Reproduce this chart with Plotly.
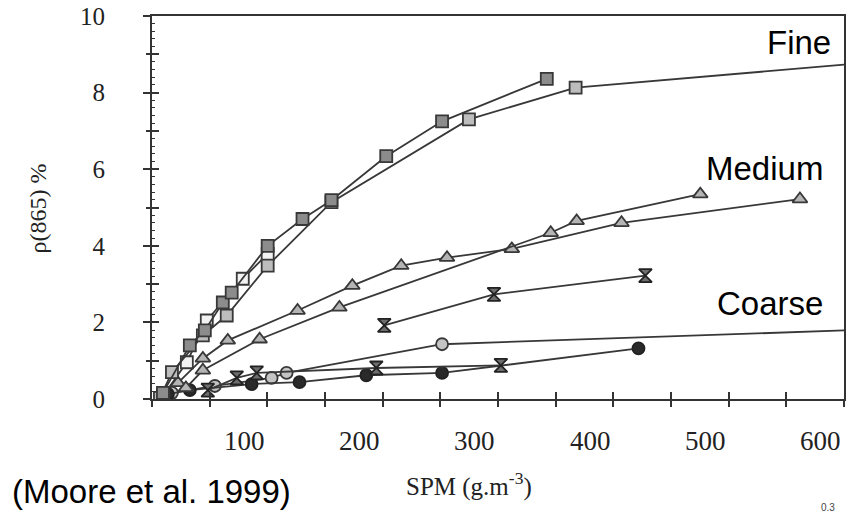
import plotly.graph_objects as go

# ---------------- data (SPM g/m3, rho(865) %) ----------------
fine_dark_x = [9.5, 32.8, 45.8, 61.4, 69.1, 100.3, 130.5, 155.6, 203.1, 251.5, 342.3]
fine_dark_y = [0.16, 1.40, 1.79, 2.52, 2.78, 4.00, 4.70, 5.19, 6.34, 7.25, 8.36]

fine_light_x = [6.9, 17.3, 44.1, 64.8, 100.3, 155.6, 274.8, 367.3]
fine_light_y = [0.03, 0.70, 1.66, 2.18, 3.48, 5.14, 7.30, 8.13]

fine_open_x = [9.5, 30.2, 47.5, 78.7, 100.3]
fine_open_y = [0.08, 0.96, 2.05, 3.14, 3.79]

fine_curve_x = [367.3, 600]
fine_curve_y = [8.13, 8.73]

med_a_x = [22.5, 44.1, 65.7, 126.2, 173.7, 216.1, 255.8, 312.0, 407.1, 561.8]
med_a_y = [0.42, 1.06, 1.53, 2.31, 2.96, 3.48, 3.69, 3.92, 4.60, 5.22]

med_b_x = [29.4, 44.1, 93.3, 162.5, 345.7, 368.2, 475.4]
med_b_y = [0.29, 0.75, 1.56, 2.39, 4.34, 4.65, 5.35]

med_hg_x = [201.4, 296.5, 427.8]
med_hg_y = [1.92, 2.73, 3.22]

coarse_light_x = [17.3, 54.5, 103.7, 116.7, 251.5]
coarse_light_y = [0.16, 0.34, 0.55, 0.68, 1.43]

coarse_curve_x = [251.5, 600]
coarse_curve_y = [1.43, 1.79]

coarse_dark_x = [13.8, 32.8, 86.4, 127.9, 185.8, 251.5, 421.8]
coarse_dark_y = [0.13, 0.23, 0.39, 0.44, 0.62, 0.68, 1.32]

coarse_hg_x = [48.4, 73.5, 90.8, 194.5, 302.5]
coarse_hg_y = [0.23, 0.55, 0.68, 0.81, 0.88]

x_tick_values = [0, 100, 200, 300, 400, 500, 600]
x_tick_labels = ["0", "100", "200", "300", "400", "500", "600"]
y_tick_values = [0, 2, 4, 6, 8, 10]
y_tick_labels = ["0", "2", "4", "6", "8", "10"]

# ---------------- styling ----------------
LINE = "#383838"
AX = "#333333"
SERIF = "Liberation Serif, Times New Roman, serif"
SANS = "Liberation Sans, Arial, sans-serif"
LABEL_SHIFT = -20  # printed tick labels sit left of their ticks in the scan

fig = go.Figure()


def series(x, y, symbol, fill, size, mline=LINE):
    fig.add_trace(go.Scatter(
        x=x, y=y, mode="lines+markers",
        line=dict(color=LINE, width=1.8),
        marker=dict(symbol=symbol, size=size, color=fill,
                    line=dict(color=mline, width=1.8)),
        showlegend=False, hoverinfo="skip"))


def curve(x, y):
    fig.add_trace(go.Scatter(x=x, y=y, mode="lines",
                             line=dict(color=LINE, width=1.8),
                             showlegend=False, hoverinfo="skip"))


curve(fine_curve_x, fine_curve_y)
curve(coarse_curve_x, coarse_curve_y)
series(coarse_light_x, coarse_light_y, "circle", "#c4c4c4", 12)
series(coarse_dark_x, coarse_dark_y, "circle", "#2a2a2a", 12, mline="#222")
series(coarse_hg_x, coarse_hg_y, "hourglass", "#6e6e6e", 13, mline="#222")
series(med_hg_x, med_hg_y, "hourglass", "#6e6e6e", 13, mline="#222")
series(med_a_x, med_a_y, "triangle-up", "#b4b4b4", 13)
series(med_b_x, med_b_y, "triangle-up", "#b4b4b4", 13)
series(fine_open_x, fine_open_y, "square", "#f2f2f2", 12)
series(fine_light_x, fine_light_y, "square", "#bdbdbd", 12)
series(fine_dark_x, fine_dark_y, "square", "#8c8c8c", 12)

# trace that activates the overlay axes (inside tick marks)
fig.add_trace(go.Scatter(x=[None], y=[None], xaxis="x2", yaxis="y2",
                         showlegend=False, hoverinfo="skip"))

axis_common = dict(showgrid=False, zeroline=False, showline=True,
                   linecolor=AX, linewidth=2, tickcolor=AX, tickwidth=2)

fig.update_layout(
    width=849, height=515,
    margin=dict(l=152, r=3, t=14, b=116, pad=0),
    paper_bgcolor="white", plot_bgcolor="white",
    xaxis=dict(range=[0, 600], dtick=50, tick0=0, ticks="outside", ticklen=6,
               showticklabels=False, mirror=True, **axis_common),
    yaxis=dict(range=[0, 10], tickvals=y_tick_values, ticktext=y_tick_labels,
               ticks="outside", ticklen=7, mirror=True,
               minor=dict(dtick=1, ticks="outside", ticklen=4, tickcolor=AX, tickwidth=2),
               tickfont=dict(family=SERIF, size=25, color="#222"),
               ticklabelstandoff=33, **axis_common),
    xaxis2=dict(overlaying="x", range=[0, 600], dtick=50, tick0=0, ticks="inside",
                ticklen=7, showticklabels=False, showgrid=False, zeroline=False,
                showline=False, tickcolor=AX, tickwidth=2),
    yaxis2=dict(overlaying="y", range=[0, 10], dtick=1, tick0=0, ticks="inside",
                ticklen=7, showticklabels=False, showgrid=False, zeroline=False,
                showline=False, tickcolor=AX, tickwidth=2,
                minor=dict(dtick=0.2, ticks="inside", ticklen=3, tickcolor=AX, tickwidth=1)),
)

annotations = []
for v, t in zip(x_tick_values, x_tick_labels):
    annotations.append(dict(x=v + LABEL_SHIFT, xref="x", y=-0.109, yref="paper",
                            text=t, showarrow=False, xanchor="center", yanchor="middle",
                            font=dict(family=SERIF, size=27, color="#222")))

annotations += [
    dict(x=-0.164, y=0.496, xref="paper", yref="paper", text="ρ(865) %",
         textangle=-90, showarrow=False, xanchor="center", yanchor="middle",
         font=dict(family=SERIF, size=24, color="#222")),
    dict(x=0.458, y=-0.223, xref="paper", yref="paper", text="SPM (g.m<sup>-3</sup>)",
         showarrow=False, xanchor="center", yanchor="middle",
         font=dict(family=SERIF, size=25, color="#222")),
    dict(x=-0.205, y=-0.242, xref="paper", yref="paper", text="(Moore et al. 1999)",
         xanchor="left", yanchor="middle", showarrow=False,
         font=dict(family=SANS, size=33, color="black")),
    dict(x=0.984, y=0.932, xref="paper", yref="paper", text="Fine", xanchor="right",
         yanchor="middle", showarrow=False, font=dict(family=SANS, size=33, color="black")),
    dict(x=0.972, y=0.603, xref="paper", yref="paper", text="Medium", xanchor="right",
         yanchor="middle", showarrow=False, font=dict(family=SANS, size=33, color="black")),
    dict(x=0.973, y=0.249, xref="paper", yref="paper", text="Coarse", xanchor="right",
         yanchor="middle", showarrow=False, font=dict(family=SANS, size=33, color="black")),
    dict(x=0.99, y=-0.283, xref="paper", yref="paper", text="0.3", xanchor="right",
         yanchor="middle", showarrow=False, font=dict(family=SANS, size=10, color="#444")),
]
fig.update_layout(annotations=annotations)

fig.write_html("out.html")
